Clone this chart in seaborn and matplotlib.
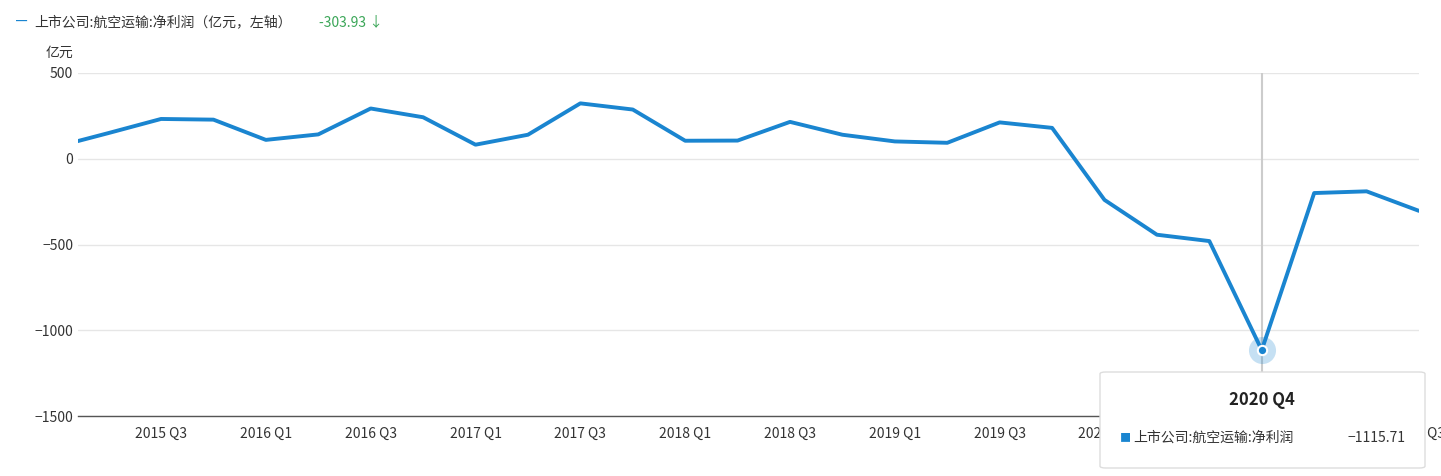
import matplotlib
matplotlib.use("Agg")
import matplotlib.pyplot as plt
import seaborn as sns
import pandas as pd
from matplotlib.patches import FancyBboxPatch

quarters = ["2015 Q1", "2015 Q2", "2015 Q3", "2015 Q4", "2016 Q1", "2016 Q2", "2016 Q3", "2016 Q4",
            "2017 Q1", "2017 Q2", "2017 Q3", "2017 Q4", "2018 Q1", "2018 Q2", "2018 Q3", "2018 Q4",
            "2019 Q1", "2019 Q2", "2019 Q3", "2019 Q4", "2020 Q1", "2020 Q2", "2020 Q3", "2020 Q4",
            "2021 Q1", "2021 Q2", "2021 Q3"]
net_profit = [70, 150, 232, 228, 110, 142, 293, 242, 82, 140, 323, 287, 105, 106, 215, 140,
              101, 93, 212, 180, -240, -443, -480, -1115.71, -200, -190, -303.93]

sns.set_theme(style="white")
plt.rcParams['font.family'] = ['Noto Sans CJK SC', 'DejaVu Sans']

df = pd.DataFrame({"x": range(len(quarters)), "y": net_profit})
blue = "#1a85d0"

fig = plt.figure(figsize=(14.41, 4.76), dpi=100)
ax = fig.add_axes([78 / 1441, 1 - 416 / 476, (1419 - 78) / 1441, (416 - 73) / 476])
sns.lineplot(data=df, x="x", y="y", ax=ax, color=blue, linewidth=2.8)

ax.set_xlim(0.416, len(quarters) - 1)
ax.set_ylim(-1500, 500)
ax.set_yticks([-1500, -1000, -500, 0, 500])
ax.set_yticklabels(["−1500", "−1000", "−500", "0", "500"])
tick_idx = [i for i, q in enumerate(quarters) if q.endswith(("Q1", "Q3")) and i > 0]
ax.set_xticks(tick_idx)
ax.set_xticklabels([quarters[i] for i in tick_idx])
ax.tick_params(axis="both", labelsize=10, colors="#333333", length=0)
ax.tick_params(axis="x", pad=8)
ax.set_xlabel("")
ax.set_ylabel("")
ax.grid(axis="y", color="#e6e6e6", linewidth=1)
for s in ["top", "right", "left"]:
    ax.spines[s].set_visible(False)
ax.spines["bottom"].set_color("#555555")
ax.spines["bottom"].set_linewidth(1)

# hover line and highlighted point
hi = quarters.index("2020 Q4")
ax.axvline(hi, color="#cccccc", linewidth=1.5, zorder=1)
ax.scatter([hi], [net_profit[hi]], s=380, color=blue, alpha=0.25, zorder=3, linewidths=0)
ax.scatter([hi], [net_profit[hi]], s=45, color=blue, edgecolor="white", linewidth=1.5, zorder=4)

# tooltip (opaque, covers ticks beneath it)
box = FancyBboxPatch((1100 / 1441, 8 / 476), 325 / 1441, 96 / 476, transform=fig.transFigure,
                     boxstyle="round,pad=0,rounding_size=0.004", facecolor="white",
                     edgecolor="#dddddd", linewidth=1, zorder=10)
fig.patches.append(box)
fig.text(1262 / 1441, 1 - 400 / 476, "2020 Q4", ha="center", va="center", fontsize=12,
         fontweight="bold", color="#222222", zorder=11)
fig.text(1120 / 1441, 1 - 438 / 476, "■", ha="left", va="center", fontsize=8, color=blue, zorder=11)
fig.text(1133 / 1441, 1 - 438 / 476, "上市公司:航空运输:净利润", ha="left", va="center",
         fontsize=10, color="#333333", zorder=11)
fig.text(1406 / 1441, 1 - 438 / 476, "−1115.71", ha="right", va="center",
         fontsize=10, color="#333333", zorder=11)

# legend / unit
fig.text(16 / 1441, 1 - 22 / 476, "━", ha="left", va="center", fontsize=8, color=blue)
fig.text(34 / 1441, 1 - 22 / 476, "上市公司:航空运输:净利润（亿元，左轴）", ha="left", va="center",
         fontsize=10, color="#333333")
fig.text(319 / 1441, 1 - 22 / 476, "-303.93 ↓", ha="left", va="center", fontsize=10, color="#3aa657")
fig.text(46 / 1441, 1 - 53 / 476, "亿元", ha="left", va="center", fontsize=10, color="#333333")

fig.savefig("out.png", dpi=100)
